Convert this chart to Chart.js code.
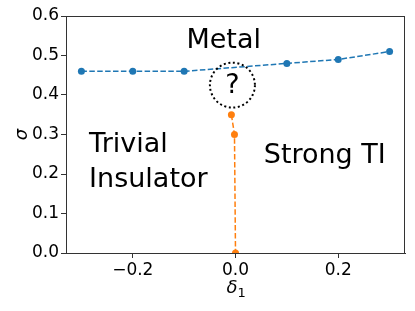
<!DOCTYPE html>
<html>
<head>
<meta charset="utf-8">
<script src="https://cdn.jsdelivr.net/npm/chart.js@4.4.1/dist/chart.umd.min.js"></script>
<style>
  html, body { margin: 0; padding: 0; background: #fff; }
  #wrap { width: 415px; height: 311px; }
</style>
</head>
<body>
<div id="wrap"><canvas id="grafico"></canvas></div>
<script>
// datos
const metalDelta = [-0.3, -0.2, -0.1, 0.1, 0.2, 0.3];
const metalSigma = [0.46, 0.46, 0.46, 0.48, 0.49, 0.51];
const tiDelta = [-0.008, -0.002, 0.0];
const tiSigma = [0.35, 0.30, 0.0];
const xTicks = [-0.2, 0.0, 0.2];
const yTicks = [0.0, 0.1, 0.2, 0.3, 0.4, 0.5, 0.6];

// etiquetas de las fases (posicion en coordenadas de datos)
const labels = [
    { text: 'Metal', x: -0.023, y: 0.52, align: 'center' },
    { text: 'Trivial', x: -0.285, y: 0.256, align: 'left' },
    { text: 'Insulator', x: -0.285, y: 0.167, align: 'left' },
    { text: 'Strong TI', x: 0.055, y: 0.228, align: 'left' }
];
const unknown = { x: -0.006, y: 0.425, r: 22.5 };

const fuente = 'DejaVu Sans';

const anotaciones = {
    id: 'anotaciones',
    afterDatasetsDraw(chart) {
        const ctx = chart.ctx;
        const sx = chart.scales.x, sy = chart.scales.y;
        const a = chart.chartArea;
        ctx.save();
        ctx.fillStyle = '#000';
        ctx.font = '27px "' + fuente + '"';
        ctx.textBaseline = 'alphabetic';
        labels.forEach(l => {
            ctx.textAlign = l.align;
            ctx.fillText(l.text, sx.getPixelForValue(l.x), sy.getPixelForValue(l.y));
        });
        // circulo punteado con signo de interrogacion
        const cx = sx.getPixelForValue(unknown.x), cy = sy.getPixelForValue(unknown.y);
        ctx.beginPath();
        ctx.setLineDash([2, 2.6]);
        ctx.lineWidth = 2;
        ctx.strokeStyle = '#000';
        ctx.arc(cx, cy, unknown.r, 0, Math.PI * 2);
        ctx.stroke();
        ctx.setLineDash([]);
        ctx.textAlign = 'center';
        ctx.textBaseline = 'middle';
        ctx.fillText('?', cx, cy + 1);
        // marco completo
        ctx.lineWidth = 1;
        ctx.strokeStyle = '#333';
        ctx.strokeRect(a.left + 0.5, a.top + 0.5, a.right - a.left - 1, a.bottom - a.top);

        // titulos de los ejes
        ctx.textBaseline = 'alphabetic';
        const mx = (a.left + a.right) / 2;
        ctx.font = 'italic 18px "' + fuente + '"';
        ctx.textAlign = 'right';
        ctx.fillText('δ', mx + 2, 293);
        ctx.font = '13px "' + fuente + '"';
        ctx.textAlign = 'left';
        ctx.fillText('1', mx + 2, 297);

        ctx.translate(27, (a.top + a.bottom) / 2);
        ctx.rotate(-Math.PI / 2);
        ctx.font = 'italic 18px "' + fuente + '"';
        ctx.textAlign = 'center';
        ctx.fillText('σ', 0, 0);
        ctx.restore();
    }
};

const fmt = v => v.toFixed(1).replace('-', '\u2212');

new Chart(document.getElementById('grafico').getContext('2d'), {
    type: 'scatter',
    data: {
        datasets: [
            {
                label: 'Metal',
                data: metalDelta.map((x, i) => ({ x: x, y: metalSigma[i] })),
                showLine: true,
                borderColor: '#1f77b4',
                backgroundColor: '#1f77b4',
                borderWidth: 1.5,
                borderDash: [5.5, 2.4],
                pointRadius: 3.5,
                pointBorderWidth: 0,
                clip: 0
            },
            {
                label: 'TI',
                data: tiDelta.map((x, i) => ({ x: x, y: tiSigma[i] })),
                showLine: true,
                borderColor: '#ff7f0e',
                backgroundColor: '#ff7f0e',
                borderWidth: 1.5,
                borderDash: [5.5, 2.4],
                pointRadius: 3.5,
                pointBorderWidth: 0,
                clip: 0
            }
        ]
    },
    options: {
        responsive: true,
        maintainAspectRatio: false,
        animation: false,
        layout: { padding: { top: 16, right: 10, left: 0, bottom: 0 } },
        plugins: { legend: { display: false }, tooltip: { enabled: false } },
        scales: {
            x: {
                min: -0.33,
                max: 0.33,
                afterBuildTicks: s => { s.ticks = xTicks.map(v => ({ value: v })); },
                afterFit: s => { s.height = 58; },
                ticks: { callback: v => fmt(v), color: '#000', font: { family: fuente, size: 17 }, padding: 2, maxRotation: 0 },
                grid: { drawOnChartArea: false, tickLength: 5, color: '#333' },
                border: { color: '#333' }
            },
            y: {
                min: 0,
                max: 0.6,
                afterBuildTicks: s => { s.ticks = yTicks.map(v => ({ value: v })); },
                afterFit: s => { s.width = 66; },
                ticks: { callback: v => fmt(v), color: '#000', font: { family: fuente, size: 17 }, padding: 2 },
                grid: { drawOnChartArea: false, tickLength: 5, color: '#333' },
                border: { color: '#333' }
            }
        }
    },
    plugins: [anotaciones]
});
</script>
</body>
</html>
